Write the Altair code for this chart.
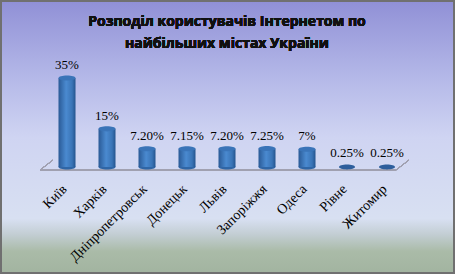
import altair as alt
import pandas as pd

cities = ["Київ", "Харків", "Дніпропетровськ", "Донецьк", "Львів",
          "Запоріжжя", "Одеса", "Рівне", "Житомир"]
shares = [35, 15, 7.20, 7.15, 7.20, 7.25, 7, 0.25, 0.25]
labels = ["35%", "15%", "7.20%", "7.15%", "7.20%", "7.25%", "7%", "0.25%", "0.25%"]
title_line1 = "Розподіл користувачів Інтернетом по"
title_line2 = "найбільших містах України"

df = pd.DataFrame({"city": cities, "share": shares, "label": labels})

W, H = 455, 274
xs = alt.Scale(domain=cities, range=[47, 407], paddingInner=0, paddingOuter=0)
ys = alt.Scale(domain=[0, 35], range=[167, 78])
X = alt.X("city:N", scale=xs, sort=cities, axis=None)
Y = alt.Y("share:Q", scale=ys, axis=None)
Y0 = alt.Y("base:Q", scale=ys, axis=None)

bg_grad = alt.Gradient(
    gradient="linear", x1=0, y1=0, x2=0, y2=1,
    stops=[
        alt.GradientStop(color="#9090d6", offset=0),
        alt.GradientStop(color="#b4b8e8", offset=0.28),
        alt.GradientStop(color="#cfd4f2", offset=0.5),
        alt.GradientStop(color="#d8e0f2", offset=0.8),
        alt.GradientStop(color="#c2cdd2", offset=0.86),
        alt.GradientStop(color="#aabba8", offset=0.92),
        alt.GradientStop(color="#a2b4a0", offset=1),
    ],
)
background = alt.Chart(df).mark_rect(color=bg_grad, stroke="#707070", strokeWidth=2).encode(
    x=alt.value(1), x2=alt.value(W - 1), y=alt.value(1), y2=alt.value(H - 1)
)

floor_col = "#a0a0b0"
floor_front = alt.Chart(df).mark_rule(color=floor_col, strokeWidth=1).encode(
    x=alt.value(40), x2=alt.value(396), y=alt.value(170), y2=alt.value(170)
)
floor_left = alt.Chart(df).mark_rule(color=floor_col, strokeWidth=1).encode(
    x=alt.value(40), x2=alt.value(53), y=alt.value(170), y2=alt.value(160)
)
floor_right = alt.Chart(df).mark_rule(color=floor_col, strokeWidth=1).encode(
    x=alt.value(396), x2=alt.value(409), y=alt.value(170), y2=alt.value(160)
)

bar_grad = alt.Gradient(
    gradient="linear", x1=0, y1=0, x2=1, y2=0,
    stops=[
        alt.GradientStop(color="#2a5a96", offset=0),
        alt.GradientStop(color="#4a8ad0", offset=0.45),
        alt.GradientStop(color="#3a74b6", offset=0.8),
        alt.GradientStop(color="#24548e", offset=1),
    ],
)
base = alt.Chart(df).transform_calculate(base="0")
tall = base.transform_filter("datum.share > 1")
low = base.transform_filter("datum.share <= 1")

bars = tall.mark_bar(width=17, color=bar_grad).encode(x=X, y=Y, y2="base:Q")

ellipse = "M-1,0 A1,0.3 0 1,0 1,0 A1,0.3 0 1,0 -1,0 Z"
bottoms = tall.mark_point(
    shape=ellipse, size=289, filled=True, color="#2f66a6", opacity=1
).encode(x=X, y=Y0)
tops = tall.mark_point(
    shape=ellipse, size=289, filled=True, color="#3a74b8", opacity=1
).encode(x=X, y=Y)
flat = low.mark_point(
    shape=ellipse, size=256, filled=True, color="#2d5e9c", opacity=1
).encode(x=X, y=Y0)

values = alt.Chart(df).mark_text(
    font="Liberation Serif", fontSize=13, baseline="bottom", dy=-6, color="#000000"
).encode(x=X, y=Y, text="label:N")

city_labels = alt.Chart(df).mark_text(
    font="Liberation Serif", fontSize=14, angle=315, align="right",
    baseline="middle", dx=-3, color="#000000"
).encode(x=X, y=alt.value(185), text="city:N")

title1 = alt.Chart(df).mark_text(
    text=title_line1, font="Open Sans", fontWeight="bold", fontSize=14,
    align="center", baseline="middle", color="#111111"
).encode(x=alt.value(227), y=alt.value(22))
title2 = alt.Chart(df).mark_text(
    text=title_line2, font="Open Sans", fontWeight="bold", fontSize=14,
    align="center", baseline="middle", color="#111111"
).encode(x=alt.value(227), y=alt.value(44))

chart = alt.layer(
    background, floor_front, floor_left, floor_right, bottoms, bars, tops, flat,
    values, city_labels, title1, title2
).properties(
    width=W, height=H, padding=0, autosize=alt.AutoSizeParams(type="none")
).configure_view(stroke=None)

chart.save("out.html", embed_options={"renderer": "svg", "actions": False})
